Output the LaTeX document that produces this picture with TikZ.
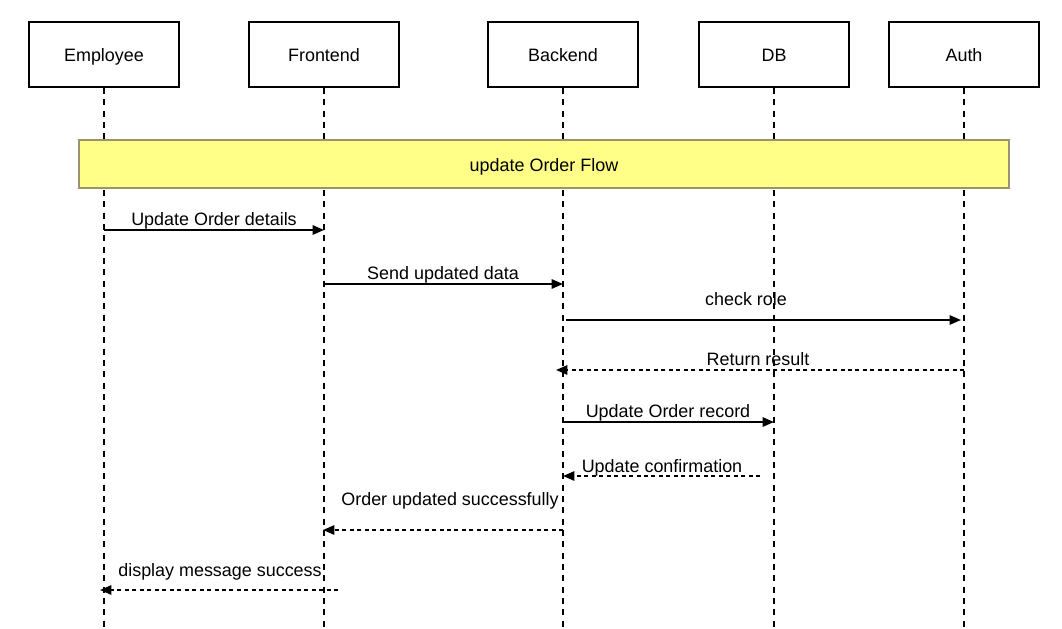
\documentclass[tikz,border=0pt]{standalone}
\usepackage{fontspec}
\setmainfont{Liberation Sans}
\usetikzlibrary{arrows.meta}
\begin{document}
\begin{tikzpicture}[x=0.75pt,y=-0.75pt,
  actor/.style={draw=black,line width=1.5pt,fill=white,minimum width=112.5pt,minimum height=48.75pt,inner sep=0pt,font=\fontsize{13.45}{16}\selectfont,text height=1.1em,text depth=0em},
  lifeline/.style={line width=1.5pt,dash pattern=on 4.5pt off 4pt},
  msg/.style={line width=1.3pt,-{Triangle[length=8.5pt,width=7pt]}},
  ret/.style={msg,dash pattern=on 3pt off 2.6pt},
  lbl/.style={font=\fontsize{13.45}{16}\selectfont,inner sep=0pt,text height=0.72em,text depth=0.2em},
  frame/.style={draw={rgb,255:red,157;green,145;blue,110},line width=1.5pt,fill={rgb,255:red,255;green,255;blue,136},minimum width=697.5pt,minimum height=36pt,inner sep=0pt,font=\fontsize{13.45}{16}\selectfont,text height=1.15em,text depth=0em}]
\useasboundingbox (0,0) rectangle (1062,628);
% actors
\node[actor] (emp) at (104,54.5) {Employee};
\node[actor] (fe) at (324,54.5) {Frontend};
\node[actor] (be) at (563,54.5) {Backend};
\node[actor] (db) at (774,54.5) {DB};
\node[actor] (au) at (964,54.5) {Auth};
% lifeline ends
\coordinate (empE) at (104,628);
\coordinate (feE) at (324,628);
\coordinate (beE) at (563,628);
\coordinate (dbE) at (774,628);
\coordinate (auE) at (964,628);
\draw[lifeline] (emp.south) -- (empE);
\draw[lifeline] (fe.south) -- (feE);
\draw[lifeline] (be.south) -- (beE);
\draw[lifeline] (db.south) -- (dbE);
\draw[lifeline] (au.south) -- (auE);
% frame
\node[frame] (flow) at (544,164) {update Order Flow};
% message points
\coordinate (m1a) at (104,230); \coordinate (m1b) at (324,230);
\coordinate (m2a) at (324,284); \coordinate (m2b) at (563,284);
\coordinate (m3a) at (566,320); \coordinate (m3b) at (961,320);
\coordinate (m4a) at (964,370); \coordinate (m4b) at (556,370);
\coordinate (m5a) at (563,422); \coordinate (m5b) at (774,422);
\coordinate (m6a) at (760,476); \coordinate (m6b) at (563,476);
\coordinate (m7a) at (563,530); \coordinate (m7b) at (323,530);
\coordinate (m8a) at (338,590); \coordinate (m8b) at (100,590);
\draw[msg] (m1a) -- (m1b);
\draw[msg] (m2a) -- (m2b);
\draw[msg] (m3a) -- (m3b);
\draw[ret] (m4a) -- (m4b);
\draw[msg] (m5a) -- (m5b);
\draw[ret] (m6a) -- (m6b);
\draw[ret] (m7a) -- (m7b);
\draw[ret] (m8a) -- (m8b);
% labels
\node[lbl] (l1) at (214,222) {Update Order details};
\node[lbl] (l2) at (443,276) {Send updated data};
\node[lbl] (l3) at (746,302) {check role};
\node[lbl] (l4) at (758,362) {Return result};
\node[lbl] (l5) at (668,414) {Update Order record};
\node[lbl] (l6) at (662,469) {Update confirmation};
\node[lbl] (l7) at (450,502) {Order updated successfully};
\node[lbl] (l8) at (220,573) {display message success};
\end{tikzpicture}
\end{document}
